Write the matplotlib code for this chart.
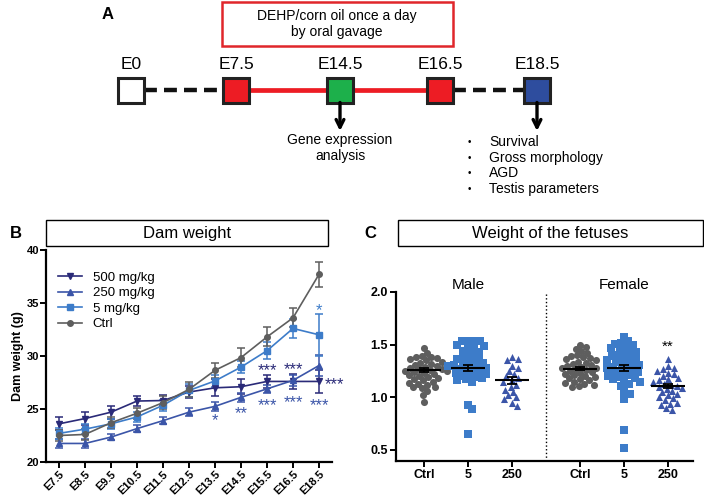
import numpy as np
import matplotlib
matplotlib.use("Agg")
import matplotlib.pyplot as plt
from matplotlib.patches import Rectangle
from matplotlib.lines import Line2D

plt.rcParams["font.family"] = ["Liberation Sans", "DejaVu Sans"]

W, H = 704, 498

# ---- panel A : timeline
stages = ["E0", "E7.5", "E14.5", "E16.5", "E18.5"]
stage_colors = ["white", "#ed1c24", "#1db04b", "#ed1c24", "#2e4d9e"]
readouts = ["Survival", "Gross morphology", "AGD", "Testis parameters"]

# ---- panel B : dam weight
days = ["E7.5", "E8.5", "E9.5", "E10.5", "E11.5", "E12.5",
        "E13.5", "E14.5", "E15.5", "E16.5", "E18.5"]
w_ctrl = [22.5, 22.6, 23.7, 24.6, 25.6, 26.85, 28.65, 29.85, 31.8, 33.6, 37.7]
e_ctrl = [0.5, 0.5, 0.5, 0.5, 0.6, 0.7, 0.7, 0.9, 0.9, 0.9, 1.15]
w_5 = [22.7, 23.1, 23.6, 24.25, 25.35, 26.75, 27.65, 28.95, 30.5, 32.6, 32.0]
e_5 = [0.5, 0.5, 0.5, 0.5, 0.5, 0.6, 0.6, 0.6, 0.8, 0.9, 2.0]
w_250 = [21.75, 21.75, 22.35, 23.15, 23.9, 24.7, 25.25, 26.1, 26.9, 27.7, 29.1]
e_250 = [0.4, 0.4, 0.3, 0.3, 0.3, 0.4, 0.4, 0.4, 0.4, 0.5, 1.0]
w_500 = [23.6, 24.1, 24.7, 25.75, 25.8, 26.6, 27.0, 27.1, 27.6, 27.6, 27.6]
e_500 = [0.6, 0.6, 0.6, 0.5, 0.5, 0.6, 0.8, 0.7, 0.6, 0.7, 1.1]

# significance marks: (day index, y, text, group)
stars_b = [
    (10, 34.3, "*", "5"),
    (8, 28.6, "***", "500"), (9, 28.7, "***", "500"), (10.6, 27.3, "***", "500"),
    (6, 23.9, "*", "250"), (7, 24.6, "**", "250"), (8, 25.3, "***", "250"),
    (9, 25.6, "***", "250"), (10, 25.3, "***", "250"),
]

# ---- panel C : fetus weights
groups = ["Ctrl", "5", "250"]
male_ctrl = [1.47, 1.42, 1.39, 1.38, 1.38, 1.37, 1.36, 1.35, 1.34, 1.33, 1.32, 1.31,
             1.30, 1.29, 1.28, 1.27, 1.27, 1.26, 1.25, 1.25, 1.24, 1.23, 1.22, 1.21,
             1.20, 1.19, 1.18, 1.17, 1.16, 1.15, 1.14, 1.13, 1.12, 1.10, 1.10, 1.09,
             1.06, 1.02, 0.96]
male_5 = [1.53, 1.53, 1.53, 1.53, 1.50, 1.49, 1.47, 1.46, 1.44, 1.43, 1.41, 1.40,
          1.38, 1.37, 1.36, 1.35, 1.34, 1.33, 1.32, 1.31, 1.30, 1.30, 1.29, 1.28,
          1.27, 1.26, 1.25, 1.24, 1.23, 1.22, 1.21, 1.20, 1.19, 1.18, 1.17, 1.16,
          1.15, 0.93, 0.89, 0.65]
male_250 = [1.38, 1.36, 1.35, 1.30, 1.28, 1.25, 1.22, 1.20, 1.18, 1.16, 1.15, 1.12,
            1.10, 1.07, 1.05, 1.02, 1.00, 0.98, 0.95, 0.92]
female_ctrl = [1.50, 1.48, 1.46, 1.44, 1.42, 1.40, 1.39, 1.38, 1.37, 1.36, 1.35,
               1.34, 1.33, 1.32, 1.31, 1.30, 1.29, 1.28, 1.28, 1.27, 1.26, 1.25,
               1.24, 1.23, 1.22, 1.21, 1.20, 1.19, 1.18, 1.17, 1.16, 1.15, 1.14,
               1.13, 1.12, 1.11, 1.10]
female_5 = [1.57, 1.53, 1.52, 1.51, 1.50, 1.48, 1.47, 1.45, 1.44, 1.43, 1.41, 1.40,
            1.39, 1.38, 1.37, 1.36, 1.35, 1.34, 1.33, 1.32, 1.31, 1.30, 1.29, 1.28,
            1.27, 1.26, 1.25, 1.24, 1.23, 1.22, 1.21, 1.20, 1.19, 1.18, 1.17, 1.16,
            1.15, 1.13, 1.11, 1.05, 1.03, 0.98, 0.69, 0.52]
female_250 = [1.36, 1.30, 1.28, 1.27, 1.25, 1.23, 1.22, 1.20, 1.18, 1.17, 1.16,
              1.15, 1.13, 1.12, 1.11, 1.10, 1.09, 1.08, 1.06, 1.05, 1.03, 1.02,
              1.00, 0.99, 0.97, 0.95, 0.94, 0.93, 0.90, 0.88]
male_mean = [1.26, 1.28, 1.16]
male_sem = [0.015, 0.028, 0.03]
female_mean = [1.27, 1.28, 1.11]
female_sem = [0.015, 0.03, 0.02]

c_ctrl = "#5e5e5e"
c_5 = "#3d7cc9"
c_250 = "#3b55a8"
c_500 = "#2a2a78"
grp_color = {"5": c_5, "250": c_250, "500": c_500}


def px_box(x0, y0, x1, y1):
    return [x0 / W, 1 - y1 / H, (x1 - x0) / W, (y1 - y0) / H]


def swarm(values, d, ysc, xsc):
    ys = np.asarray(values) * ysc
    xs = np.zeros(len(ys))
    placed = []
    for i in np.argsort(-ys):
        y = ys[i]
        cands = [0.0]
        for px, py in placed:
            dy = y - py
            if abs(dy) < d:
                dx = np.sqrt(d * d - dy * dy)
                cands += [px + dx, px - dx]
        cands.sort(key=abs)
        for c in cands:
            if all((c - px) ** 2 + (y - py) ** 2 >= d * d - 1e-6 for px, py in placed):
                xs[i] = c
                break
        placed.append((xs[i], y))
    return xs / xsc


fig = plt.figure(figsize=(W / 100, H / 100), dpi=100)

# overlay in pixel coordinates for the diagram and the title boxes
ov = fig.add_axes([0, 0, 1, 1])
ov.set_xlim(0, W)
ov.set_ylim(H, 0)
ov.axis("off")

ov.text(108, 14, "A", fontsize=12, fontweight="bold", ha="center", va="center")
ov.add_patch(Rectangle((222, 2), 231, 44, fill=False, ec="#e0262b", lw=1.8))
ov.text(337, 24, "DEHP/corn oil once a day\nby oral gavage", fontsize=10,
        ha="center", va="center", linespacing=1.25)

sx = [131, 236, 340, 440, 537]
ty = 90
dash = (0, (2.9, 1.6))
ov.plot([sx[0] + 13, sx[1]], [ty, ty], color="#111111", lw=3.2, ls=dash,
        solid_capstyle="butt", zorder=1)
ov.plot([sx[1], sx[3]], [ty, ty], color="#ed1c24", lw=3.4, zorder=1)
ov.plot([sx[3] + 13, sx[4]], [ty, ty], color="#111111", lw=3.2, ls=dash, zorder=1)
for x, lab, col in zip(sx, stages, stage_colors):
    ov.add_patch(Rectangle((x - 13, ty - 12.5), 26, 25, fc=col, ec="#222222",
                           lw=2.2, zorder=2))
    ov.text(x, 64, lab, fontsize=12.5, ha="center", va="center")
for x in (sx[2], sx[4]):
    ov.annotate("", xy=(x, 131), xytext=(x, ty + 12.5),
                arrowprops=dict(arrowstyle="->", color="black", lw=2.4,
                                mutation_scale=14, shrinkA=0, shrinkB=0))
ov.text(sx[2], 148, "Gene expression\nanalysis", fontsize=10, ha="center",
        va="center", linespacing=1.25)
for k, r in enumerate(readouts):
    yy = 142 + 15.7 * k
    ov.text(469, yy, "•", fontsize=7, ha="center", va="center")
    ov.text(489, yy, r, fontsize=10, ha="left", va="center")

# title boxes
ov.text(10, 233, "B", fontsize=12, fontweight="bold", ha="left", va="center")
ov.add_patch(Rectangle((46, 220), 282, 26, fill=False, ec="black", lw=1))
ov.text(187, 233, "Dam weight", fontsize=12, ha="center", va="center")
ov.text(364, 233, "C", fontsize=12, fontweight="bold", ha="left", va="center")
ov.add_patch(Rectangle((398, 220), 305, 26, fill=False, ec="black", lw=1))
ov.text(550, 233, "Weight of the fetuses", fontsize=12, ha="center", va="center")

# ---- panel B
axb = fig.add_axes(px_box(46, 250, 332, 462))
axb.set_facecolor("none")
xi = np.arange(len(days))
series = [("500 mg/kg", w_500, e_500, c_500, "v"),
          ("250 mg/kg", w_250, e_250, c_250, "^"),
          ("5 mg/kg", w_5, e_5, c_5, "s"),
          ("Ctrl", w_ctrl, e_ctrl, c_ctrl, "o")]
handles = []
for lab, w, e, col, mk in series:
    axb.errorbar(xi, w, yerr=e, color=col, marker=mk, ms=4, lw=1.2,
                 elinewidth=1.1, capsize=3, capthick=1.1)
    handles.append(Line2D([], [], color=col, marker=mk, ms=4, lw=1.2, label=lab))
for i, y, txt, g in stars_b:
    axb.text(i, y, txt, color=grp_color[g], fontsize=12, ha="center", va="center")
axb.set_xlim(-0.5, 10.5)
axb.set_ylim(20, 40)
axb.set_yticks([20, 25, 30, 35, 40])
axb.set_xticks(xi)
axb.set_xticklabels(days, rotation=45, ha="right", rotation_mode="anchor")
for t in axb.get_xticklabels() + axb.get_yticklabels():
    t.set_fontweight("bold")
    t.set_fontsize(8)
axb.set_ylabel("Dam weight (g)", fontsize=9, fontweight="bold", labelpad=2)
axb.spines["top"].set_visible(False)
axb.spines["right"].set_visible(False)
for s in ("left", "bottom"):
    axb.spines[s].set_linewidth(1.6)
axb.tick_params(width=1.4, length=4, pad=1)
axb.legend(handles=handles, loc="upper left", bbox_to_anchor=(0.02, 0.93),
           frameon=False, fontsize=9.5, handlelength=1.8, labelspacing=0.25,
           borderpad=0)

# ---- panel C
axc = fig.add_axes(px_box(396, 292, 693, 460.5))
axc.set_facecolor("none")
pos_m = [1, 2, 3]
pos_f = [4.55, 5.55, 6.55]
xsc, ysc = 44.0, 105.3
sets = [(male_ctrl, pos_m[0], c_ctrl, "o"), (male_5, pos_m[1], c_5, "s"),
        (male_250, pos_m[2], c_250, "^"), (female_ctrl, pos_f[0], c_ctrl, "o"),
        (female_5, pos_f[1], c_5, "s"), (female_250, pos_f[2], c_250, "^")]
for vals, x0, col, mk in sets:
    off = swarm(vals, 6.0, ysc, xsc)
    axc.scatter(x0 + off, vals, s=26, color=col, marker=mk, linewidths=0, zorder=2)
for pos, mean, sem in ((pos_m, male_mean, male_sem), (pos_f, female_mean, female_sem)):
    for x0, m, se in zip(pos, mean, sem):
        axc.hlines(m, x0 - 0.38, x0 + 0.38, color="black", lw=1.5, zorder=3)
        axc.errorbar(x0, m, yerr=se, color="black", lw=1.3, capsize=3.5,
                     capthick=1.3, zorder=3)
axc.text(pos_f[2], 1.48, "**", fontsize=11, ha="center", va="center")
axc.plot([3.775, 3.775], [0.4, 2.0], color="black", ls=":", lw=1)
axc.text(2, 2.07, "Male", fontsize=11, ha="center", va="center")
axc.text(5.55, 2.07, "Female", fontsize=11, ha="center", va="center")
axc.set_xlim(0.364, 7.118)
axc.set_ylim(0.4, 2.0)
axc.set_yticks([0.5, 1.0, 1.5, 2.0])
axc.set_yticklabels(["0.5", "1.0", "1.5", "2.0"])
axc.set_xticks(pos_m + pos_f)
axc.set_xticklabels(groups + groups)
for t in axc.get_xticklabels() + axc.get_yticklabels():
    t.set_fontweight("bold")
    t.set_fontsize(9)
axc.spines["top"].set_visible(False)
axc.spines["right"].set_visible(False)
for s in ("left", "bottom"):
    axc.spines[s].set_linewidth(1.6)
axc.tick_params(width=1.4, length=4, pad=2)

fig.savefig("out.png", dpi=100)
